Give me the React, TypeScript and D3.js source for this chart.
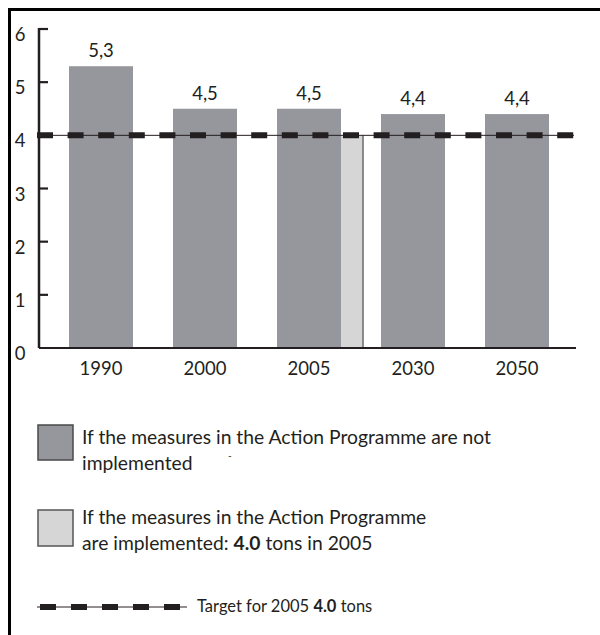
import React from "react";
import * as d3 from "d3";

// Emissions per capita (tons) by year
const years: string[] = ["1990", "2000", "2005", "2030", "2050"];
const notImplemented: number[] = [5.3, 4.5, 4.5, 4.4, 4.4];
const implementedYear = "2005";
const implementedValue = 4.0;
const targetValue = 4.0;
const yTicks: number[] = [0, 1, 2, 3, 4, 5, 6];

const W = 600;
const H = 635;
const FONT = "Lato, 'Open Sans', sans-serif";
const INK = "#231f20";
const DARK_BAR = "#96969d";
const LIGHT_BAR = "#d6d6d6";

const fmt = (v: number) => d3.format(".1f")(v).replace(".", ",");

export default function App() {
  const x = d3
    .scaleBand<string>()
    .domain(years)
    .range([49, 569])
    .paddingInner(0.3846)
    .paddingOuter(0.1923);
  const y = d3.scaleLinear().domain([0, 6]).range([348, 29]);
  const axisX = 39;
  const bw = x.bandwidth();
  const lightW = 22;

  return (
    <svg
      width={W}
      height={H}
      style={{ position: "absolute", left: 0, top: 0, background: "#fff" }}
      fontFamily={FONT}
    >
      {/* frame */}
      <path d={`M9.5,${H} V9.5 H${W}`} fill="none" stroke="#000" strokeWidth={3} />

      {/* bars: measures not implemented */}
      {years.map((yr, i) => (
        <g key={yr}>
          <rect
            x={x(yr)!}
            y={y(notImplemented[i])}
            width={bw}
            height={y(0) - y(notImplemented[i])}
            fill={DARK_BAR}
          />
          <text
            x={x(yr)! + bw / 2}
            y={y(notImplemented[i]) - 9}
            textAnchor="middle"
            fontSize={18.5}
            fill={INK}
          >
            {fmt(notImplemented[i])}
          </text>
          <text
            x={x(yr)! + bw / 2}
            y={375}
            textAnchor="middle"
            fontSize={18.5}
            fill={INK}
          >
            {yr}
          </text>
        </g>
      ))}

      {/* bar: measures implemented */}
      <rect
        x={x(implementedYear)! + bw}
        y={y(implementedValue)}
        width={lightW}
        height={y(0) - y(implementedValue)}
        fill={LIGHT_BAR}
      />
      <line
        x1={x(implementedYear)! + bw + lightW}
        x2={x(implementedYear)! + bw + lightW}
        y1={y(implementedValue)}
        y2={y(0)}
        stroke="#6b6b6b"
        strokeWidth={1.5}
      />

      {/* y axis */}
      <line x1={axisX} x2={axisX} y1={y(0)} y2={y(6) - 1} stroke={INK} strokeWidth={2.5} />
      {yTicks.map((t) => (
        <g key={t}>
          {t > 0 && (
            <line x1={axisX} x2={axisX + 9} y1={y(t)} y2={y(t)} stroke={INK} strokeWidth={2.2} />
          )}
          <text x={20} y={y(t) + 12} textAnchor="middle" fontSize={18.5} fill={INK}>
            {t}
          </text>
        </g>
      ))}
      {/* x axis */}
      <line x1={axisX} x2={576} y1={y(0)} y2={y(0)} stroke={INK} strokeWidth={2.2} />

      {/* target line */}
      <line x1={axisX} x2={574} y1={y(targetValue)} y2={y(targetValue)} stroke={INK} strokeWidth={1} />
      <line
        x1={37}
        x2={575}
        y1={y(targetValue)}
        y2={y(targetValue)}
        stroke={INK}
        strokeWidth={6}
        strokeDasharray="16 14.6"
      />

      {/* legend */}
      <g fill={INK} fontSize={19.3}>
        <rect x={38} y={425} width={35} height={35} fill={DARK_BAR} stroke="#4a4a4a" strokeWidth={1.5} />
        <text x={82} y={444}>If the measures in the Action Programme are not</text>
        <text x={82} y={470}>implemented</text>
        <text x={228} y={459} fontSize={10}>-</text>

        <rect x={38} y={510} width={35} height={36} fill={LIGHT_BAR} stroke="#555" strokeWidth={1.5} />
        <text x={82} y={524}>If the measures in the Action Programme</text>
        <text x={82} y={550}>
          are implemented: <tspan fontWeight="bold">4.0</tspan> tons in 2005
        </text>

        <line x1={37} x2={187} y1={607} y2={607} stroke={INK} strokeWidth={1} />
        <line x1={40} x2={185} y1={607} y2={607} stroke={INK} strokeWidth={6} strokeDasharray="16 15" />
        <text x={197} y={612} fontSize={16.5}>
          Target for 2005 <tspan fontWeight="bold">4.0</tspan> tons
        </text>
      </g>
    </svg>
  );
}
